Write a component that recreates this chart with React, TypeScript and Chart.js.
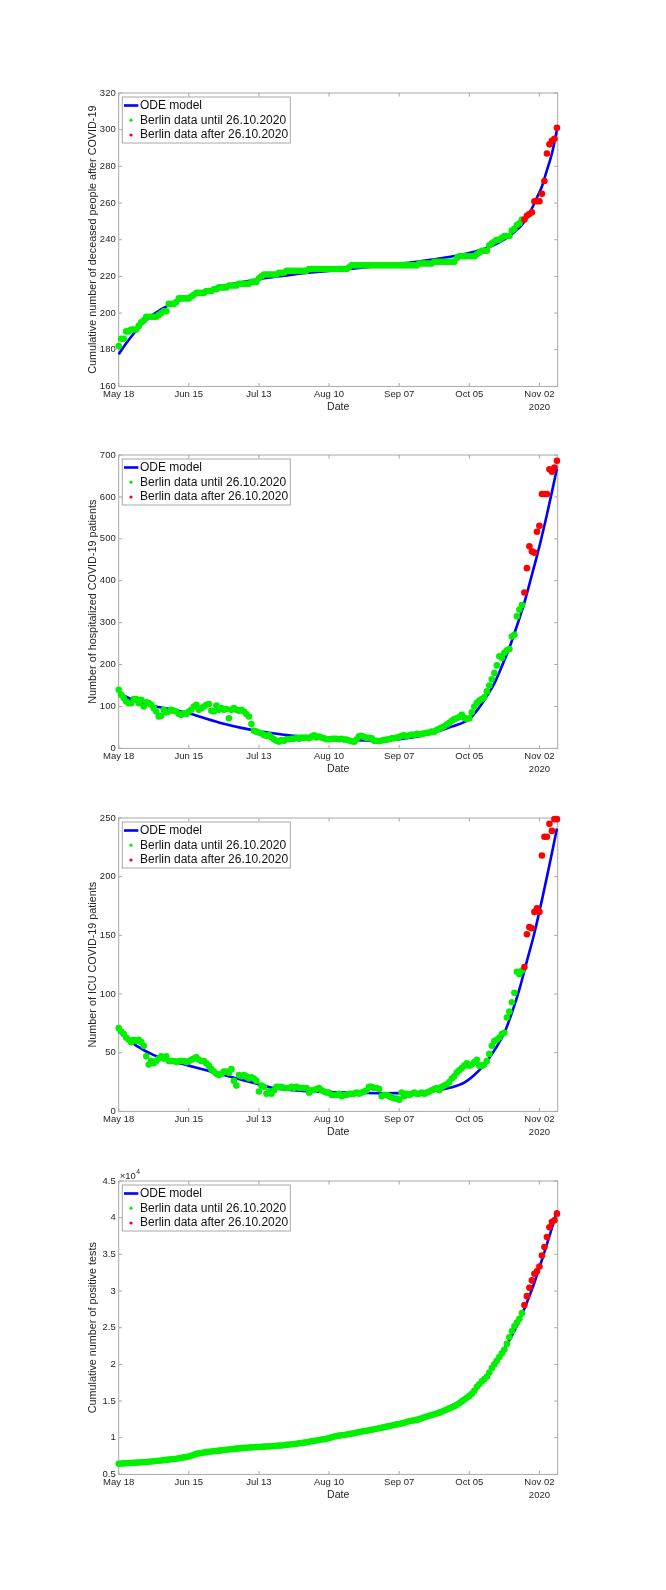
import React, { useEffect, useRef } from 'react';
import { Chart, registerables } from 'chart.js';

Chart.register(...registerables);

// ---------- shared axis data ----------
const TICK_DAYS = [0, 28, 56, 84, 112, 140, 168];
const TICK_LABELS = ['May 18', 'Jun 15', 'Jul 13', 'Aug 10', 'Sep 07', 'Oct 05', 'Nov 02'];
const YEAR_LABEL = '2020';
const X_TITLE = 'Date';
const X_MAX = 175.3;
const FIRST_RED_DAY = 162;
const LEGEND_LABELS = ['ODE model', 'Berlin data until 26.10.2020', 'Berlin data after 26.10.2020'];

// ---------- panel 1: cumulative deceased ----------
const DEATHS_GREEN = [
  182, 186, 186, 190, 190, 191, 191, 191, 193, 195,
  196, 198, 198, 198, 198, 198, 199, 200, 201, 201,
  205, 205, 205, 206, 208, 208, 208, 208, 208, 209,
  210, 211, 211, 211, 211, 212, 212, 212, 213, 213,
  214, 214, 214, 214, 215, 215, 215, 215, 216, 216,
  216, 216, 216, 217, 217, 217, 219, 220, 221, 221,
  221, 221, 221, 221, 222, 222, 222, 223, 223, 223,
  223, 223, 223, 223, 223, 223, 224, 224, 224, 224,
  224, 224, 224, 224, 224, 224, 224, 224, 224, 224,
  224, 224, 225, 226, 226, 226, 226, 226, 226, 226,
  226, 226, 226, 226, 226, 226, 226, 226, 226, 226,
  226, 226, 226, 226, 226, 226, 226, 226, 226, 226,
  227, 227, 227, 227, 227, 227, 228, 228, 228, 228,
  228, 228, 228, 228, 228, 230, 231, 231, 231, 231,
  231, 231, 231, 232, 233, 234, 234, 234, 237, 238,
  239, 240, 240, 241, 242, 242, 242, 245, 246, 248,
  249, 251,
];
const DEATHS_RED = [251, 253, 254, 255, 261, 261, 261, 265, 272, 287, 292, 294, 295, 301];
const DEATHS_ODE_DAYS = [0, 3, 7, 10, 14, 21, 28, 35, 42, 49, 56, 63, 70, 77, 84, 91, 98, 105, 112, 119, 126, 133, 140, 147, 152, 156, 159, 161, 163, 165, 167, 169, 171, 173, 175];
const DEATHS_ODE = [177.5, 183.5, 190.5, 195, 199.5, 205, 208.8, 212, 214.8, 216.8, 218.6, 219.9, 221.1, 222.1, 223, 223.9, 224.8, 225.8, 226.9, 228, 229.3, 230.8, 232.8, 235.5, 238.5, 242, 245.5, 248, 252, 257, 263, 269, 278, 287, 300];

// ---------- panel 2: hospitalized ----------
const HOSP_GREEN = [
  140, 128, 120, 112, 108, 108, 118, 118, 108, 116,
  100, 110, 108, 104, 96, 88, 76, 78, 92, 86,
  88, 92, 90, 88, 82, 80, 84, 82, 88, 92,
  100, 104, 92, 96, 100, 104, 106, 90, 88, 102,
  92, 96, 92, 94, 72, 92, 96, 92, 90, 92,
  88, 82, 76, 58, 42, 40, 38, 36, 32, 30,
  32, 26, 22, 18, 16, 20, 18, 22, 22, 23,
  23, 25, 23, 26, 25, 26, 24, 28, 31, 26,
  28, 26, 24, 22,
  22, 23, 23, 23, 22, 23, 21, 21, 19, 17,
  16, 21, 29, 30, 27, 25, 25, 24, 18, 18,
  17, 19, 20, 21, 22, 24, 24, 26, 27, 30,
  31, 29, 31, 33, 32, 35, 33, 34, 36, 37,
  38, 40, 40, 44, 47, 50, 53, 57, 61, 66,
  70, 72, 75, 80, 73, 70, 72, 86, 100, 109,
  114, 118, 122, 136, 150, 165, 180, 198, 220, 216,
  228, 234, 237, 267, 271, 315, 331, 342,
];
const HOSP_RED = [372, 430, 482, 470, 467, 517, 531, 607, 607, 607, 666, 660, 670, 686];
const HOSP_ODE_DAYS = [0, 7, 14, 21, 28, 35, 42, 49, 56, 63, 70, 77, 84, 91, 98, 105, 112, 119, 126, 133, 140, 144, 147, 150, 153, 156, 159, 162, 165, 168, 171, 173, 175];
const HOSP_ODE = [132, 112, 101, 93, 84, 71, 59, 49, 41, 35, 30, 27, 23, 20, 19, 19, 22, 28, 38, 52, 70, 98, 125, 155, 196, 240, 292, 348, 414, 482, 558, 612, 668];

// ---------- panel 3: ICU ----------
const ICU_GREEN = [
  71, 68, 66, 63, 61, 59, 61, 60, 61, 59,
  56, 47, 40, 43, 41, 43, 45, 47, 45, 47,
  43, 43, 43, 42, 43, 43, 43, 42, 43, 44,
  45, 46, 44, 43, 43, 41, 39, 36, 34, 32,
  31, 32, 34, 34, 33, 36, 26, 22, 31, 30,
  31, 30, 28, 29, 28, 26, 17, 22, 21, 15,
  17, 15, 18, 21, 21, 21, 20, 20, 20, 21,
  20, 21, 20, 20, 20, 20, 16, 18, 18, 19,
  20, 18, 17, 16, 16,
  14, 14, 14, 15, 13, 14, 14, 15, 15, 15,
  16, 15, 16, 17, 18, 21, 21, 20, 20, 19,
  13, 14, 14, 13, 12, 11, 11, 10, 16, 13,
  15, 14, 15, 16, 15, 15, 16, 15, 16, 17,
  18, 19, 20, 18, 21, 22, 23, 25, 28, 30,
  33, 35, 37, 39, 41, 39, 40, 42, 44, 39,
  39, 40, 43, 49, 56, 60, 61, 63, 66, 67,
  80, 85, 93, 101, 119, 117, 120,
];
const ICU_RED = [123, 151, 157, 156, 170, 173, 170, 218, 234, 234, 245, 239, 249, 249];
const ICU_ODE_DAYS = [0, 3, 7, 14, 21, 28, 35, 42, 49, 56, 63, 70, 77, 84, 91, 98, 105, 112, 119, 126, 133, 138, 142, 146, 150, 154, 157, 160, 163, 166, 169, 172, 175];
const ICU_ODE = [70, 63, 56, 48, 43, 39, 35, 31, 27, 23, 19.5, 18, 17, 16.5, 16, 15.7, 15.5, 15.6, 16, 17.6, 20.5, 24.5, 31, 40, 52, 67, 84, 104, 128, 152, 180, 210, 241];

// ---------- panel 4: cumulative positive tests ----------
const CASES_GREEN = [
  6450, 6480, 6500, 6520, 6540, 6560, 6580, 6600, 6620, 6650,
  6680, 6700, 6730, 6760, 6790, 6830, 6860, 6900, 6940, 6980,
  7020, 7060, 7100, 7140, 7200, 7260, 7320, 7380, 7450, 7550,
  7680, 7800, 7860, 7920, 7980, 8030, 8080, 8130, 8170, 8200,
  8240, 8280, 8320, 8360, 8400, 8440, 8480, 8510, 8550, 8580,
  8610, 8640, 8660, 8680, 8700, 8720, 8740, 8760, 8780, 8800,
  8820, 8840, 8860, 8890, 8920, 8950, 8980, 9020, 9060, 9100,
  9140, 9180, 9230, 9280, 9330, 9390, 9450, 9510, 9570, 9630,
  9690, 9750, 9800, 9860, 9950, 10050, 10150, 10220, 10290, 10340,
  10380, 10440, 10500, 10560, 10620, 10700, 10770, 10840, 10900, 10960,
  11020, 11090, 11160, 11230, 11300, 11370, 11440, 11510, 11590, 11660,
  11740, 11820, 11880, 11950, 12050, 12150, 12250, 12320, 12380, 12430,
  12530, 12650, 12780, 12900, 13000, 13100, 13200, 13300, 13420, 13550,
  13700, 13850, 14000, 14150, 14300, 14480, 14700, 14950, 15200, 15450,
  15700, 16000, 16400, 16900, 17300, 17700, 18000, 18300, 18900, 19500,
  20000, 20500, 21000, 21500, 22000, 22800, 23700, 24500, 25200, 25700,
  26200, 27000,
];
const CASES_RED = [28100, 29300, 30450, 31450, 32350, 32700, 33350, 34850, 36000, 37350, 38700, 39400, 39650, 40550];
const CASES_ODE_DAYS = [0, 14, 28, 42, 56, 70, 84, 98, 112, 119, 126, 133, 140, 145, 150, 155, 160, 165, 170, 173, 175];
const CASES_ODE = [6450, 6800, 7500, 8200, 8700, 9200, 9900, 10800, 11900, 12500, 13300, 14400, 15800, 17600, 19900, 22700, 26000, 30200, 35300, 38600, 41000];

// ---------- styling ----------
const FONT = '"Liberation Sans", Arial, Helvetica, sans-serif';
const TEXT = '#262626';
const AXIS_COLOR = '#a8a8a8';
const BLUE = '#0000ff';
const GREEN = '#00f000';
const RED = '#ff0000';
const CANVAS_W = 666;
const CANVAS_H = 362;
const TICK_LEN = 3.5;

type PanelSpec = {
  top: number;
  yTitle: string;
  yMin: number;
  yMax: number;
  yStep: number;
  green: number[];
  red: number[];
  odeDays: number[];
  ode: number[];
  scaleDiv?: number;
};

const PANELS: PanelSpec[] = [
  { top: 63, yTitle: 'Cumulative number of deceased people after COVID-19', yMin: 160, yMax: 320, yStep: 20, green: DEATHS_GREEN, red: DEATHS_RED, odeDays: DEATHS_ODE_DAYS, ode: DEATHS_ODE },
  { top: 425, yTitle: 'Number of hospitalized COVID-19 patients', yMin: 0, yMax: 700, yStep: 100, green: HOSP_GREEN, red: HOSP_RED, odeDays: HOSP_ODE_DAYS, ode: HOSP_ODE },
  { top: 788, yTitle: 'Number of ICU COVID-19 patients', yMin: 0, yMax: 250, yStep: 50, green: ICU_GREEN, red: ICU_RED, odeDays: ICU_ODE_DAYS, ode: ICU_ODE },
  { top: 1151, yTitle: 'Cumulative number of positive tests', yMin: 5000, yMax: 45000, yStep: 5000, green: CASES_GREEN, red: CASES_RED, odeDays: CASES_ODE_DAYS, ode: CASES_ODE, scaleDiv: 10000 },
];

function makeDecorPlugin(p: PanelSpec) {
  return {
    id: 'matlabDecor',
    beforeDatasetsDraw(chart: any) {
      const { ctx, chartArea: a, scales } = chart;
      ctx.save();
      ctx.strokeStyle = AXIS_COLOR;
      ctx.lineWidth = 1;
      ctx.beginPath();
      for (const t of scales.x.ticks) {
        const px = scales.x.getPixelForValue(t.value);
        ctx.moveTo(px, a.bottom);
        ctx.lineTo(px, a.bottom - TICK_LEN);
        ctx.moveTo(px, a.top);
        ctx.lineTo(px, a.top + TICK_LEN);
      }
      for (const t of scales.y.ticks) {
        const py = scales.y.getPixelForValue(t.value);
        ctx.moveTo(a.left, py);
        ctx.lineTo(a.left + TICK_LEN, py);
        ctx.moveTo(a.right, py);
        ctx.lineTo(a.right - TICK_LEN, py);
      }
      ctx.stroke();
      ctx.strokeRect(a.left, a.top, a.right - a.left, a.bottom - a.top);
      ctx.restore();
    },
    afterDatasetsDraw(chart: any) {
      const { ctx, chartArea: a } = chart;
      ctx.save();
      // legend box
      const bx = a.left + 3.6;
      const by = a.top + 4;
      const bw = 168;
      ctx.fillStyle = '#ffffff';
      ctx.fillRect(bx, by, bw, 46);
      ctx.strokeStyle = AXIS_COLOR;
      ctx.lineWidth = 1;
      ctx.strokeRect(bx, by, bw, 46);
      const rows = [a.top + 12.5, a.top + 27.2, a.top + 42];
      ctx.strokeStyle = BLUE;
      ctx.lineWidth = 2.6;
      ctx.beginPath();
      ctx.moveTo(a.left + 5.3, rows[0]);
      ctx.lineTo(a.left + 19.6, rows[0]);
      ctx.stroke();
      ctx.fillStyle = GREEN;
      ctx.beginPath();
      ctx.arc(a.left + 12.3, rows[1], 1.6, 0, Math.PI * 2);
      ctx.fill();
      ctx.fillStyle = RED;
      ctx.beginPath();
      ctx.arc(a.left + 12.3, rows[2], 1.6, 0, Math.PI * 2);
      ctx.fill();
      ctx.fillStyle = '#111111';
      ctx.font = `12px ${FONT}`;
      ctx.textBaseline = 'middle';
      ctx.textAlign = 'left';
      LEGEND_LABELS.forEach((txt, i) => ctx.fillText(txt, a.left + 21.3, rows[i]));
      // exponent marker
      if (p.scaleDiv) {
        ctx.fillStyle = TEXT;
        ctx.font = `9.5px ${FONT}`;
        ctx.textBaseline = 'middle';
        const x0 = a.left + 1;
        const y0 = a.top - 5;
        ctx.fillText('\u00d710', x0, y0);
        const w = ctx.measureText('\u00d710').width;
        ctx.font = `6.8px ${FONT}`;
        ctx.fillText('4', x0 + w + 0.5, y0 - 3.5);
      }
      ctx.restore();
    },
  };
}

function Panel({ p }: { p: PanelSpec }) {
  const ref = useRef<HTMLCanvasElement>(null);
  useEffect(() => {
    if (!ref.current) return;
    const chart = new Chart(ref.current, {
      type: 'scatter',
      data: {
        datasets: [
          {
            label: LEGEND_LABELS[0],
            data: p.odeDays.map((d, i) => ({ x: d, y: p.ode[i] })),
            showLine: true,
            borderColor: BLUE,
            backgroundColor: BLUE,
            borderWidth: 2.6,
            pointRadius: 0,
            tension: 0.4,
            cubicInterpolationMode: 'monotone',
            order: 3,
            clip: false,
          } as any,
          {
            label: LEGEND_LABELS[1],
            data: p.green.map((v, i) => ({ x: i, y: v })),
            backgroundColor: GREEN,
            borderColor: GREEN,
            borderWidth: 0,
            pointRadius: 3.3,
            order: 2,
            clip: false,
          } as any,
          {
            label: LEGEND_LABELS[2],
            data: p.red.map((v, i) => ({ x: FIRST_RED_DAY + i, y: v })),
            backgroundColor: RED,
            borderColor: RED,
            borderWidth: 0,
            pointRadius: 3.3,
            order: 1,
            clip: false,
          } as any,
        ],
      },
      options: {
        responsive: false,
        maintainAspectRatio: false,
        animation: false,
        devicePixelRatio: 1,
        layout: { padding: { left: 80, right: 108.3, top: 30, bottom: 0 } },
        plugins: { legend: { display: false }, tooltip: { enabled: false } },
        scales: {
          x: {
            type: 'linear',
            min: 0,
            max: X_MAX,
            grid: { display: false, drawTicks: false },
            border: { display: false },
            afterBuildTicks: (s: any) => {
              s.ticks = TICK_DAYS.map((v) => ({ value: v }));
            },
            afterFit: (s: any) => {
              s.height = 38.6;
            },
            ticks: {
              autoSkip: false,
              maxRotation: 0,
              minRotation: 0,
              padding: 2,
              color: TEXT,
              font: { family: FONT, size: 9.5, lineHeight: 1.34 },
              callback: (v: any) => {
                const idx = TICK_DAYS.indexOf(Number(v));
                if (idx < 0) return '';
                return idx === TICK_LABELS.length - 1 ? [TICK_LABELS[idx], YEAR_LABEL] : TICK_LABELS[idx];
              },
            },
            title: {
              display: true,
              text: X_TITLE,
              color: TEXT,
              font: { family: FONT, size: 10.6, lineHeight: 1.2 },
              padding: { top: 0, bottom: 11.2 },
            },
          },
          y: {
            type: 'linear',
            min: p.yMin,
            max: p.yMax,
            grid: { display: false, drawTicks: false },
            border: { display: false },
            afterFit: (s: any) => {
              s.width = 38.7;
            },
            ticks: {
              stepSize: p.yStep,
              padding: 3,
              color: TEXT,
              font: { family: FONT, size: 9.5 },
              callback: (v: any) => (p.scaleDiv ? String(Number(v) / p.scaleDiv) : String(v)),
            },
            title: {
              display: true,
              text: p.yTitle,
              color: TEXT,
              font: { family: FONT, size: 10.8, lineHeight: 1.2 },
              padding: { top: 6.2, bottom: 0 },
            },
          },
        },
      } as any,
      plugins: [makeDecorPlugin(p)],
    });
    return () => chart.destroy();
  }, [p]);
  return (
    <canvas
      ref={ref}
      width={CANVAS_W}
      height={CANVAS_H}
      style={{ position: 'absolute', left: 0, top: p.top, width: CANVAS_W, height: CANVAS_H, display: 'block' }}
    />
  );
}

export default function App() {
  return (
    <div style={{ position: 'absolute', left: 0, top: 0, width: 666, height: 1590, background: '#ffffff' }}>
      {PANELS.map((p, i) => (
        <Panel key={i} p={p} />
      ))}
    </div>
  );
}
